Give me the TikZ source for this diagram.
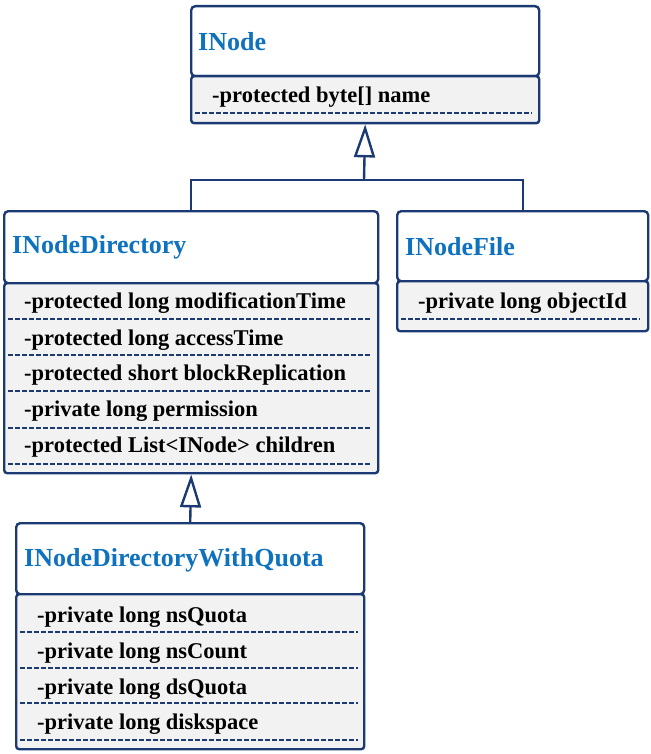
\documentclass[tikz,border=0pt]{standalone}
\usepackage{fontspec}
\setmainfont{Liberation Serif}
\usetikzlibrary{arrows.meta}
\definecolor{navy}{HTML}{1B3A73}
\definecolor{ttl}{HTML}{0E72BE}
\definecolor{attrbg}{HTML}{F2F2F2}
\tikzset{
 hdr/.style={draw=navy, line width=2.4pt, fill=white, rounded corners=4pt, anchor=north west, inner sep=0pt},
 sec/.style={draw=navy, line width=2.4pt, fill=attrbg, rounded corners=3pt, anchor=north west, inner sep=0pt},
 ttlt/.style={anchor=west, text=ttl, font=\fontsize{26}{30}\selectfont\bfseries, inner sep=0pt},
 att/.style={anchor=west, text=black, font=\fontsize{22.5}{26}\selectfont\bfseries, inner sep=0pt},
 sep/.style={draw=navy, line width=2pt, dash pattern=on 4.5pt off 2.5pt},
 conn/.style={draw=navy, line width=2.4pt},
 gen/.style={conn, -{Triangle[open, length=33pt, width=21pt, line width=2.4pt]}}
}
\begin{document}
\begin{tikzpicture}[x=1pt, y=-1pt]
\useasboundingbox (0,0) rectangle (650,754);
% INode
\node[hdr, minimum width=348pt, minimum height=70pt] (inodeH) at (190,5) {};
\node[sec, minimum width=348pt, minimum height=47pt] (inodeA) at (190,75) {};
\node[ttlt] (tInode) at (198,42) {INode};
\node[att] (aInode1) at (212,97) {-protected byte[] name};
\draw[sep] (195,113) -- (532,113);
% INodeDirectory
\node[hdr, minimum width=374pt, minimum height=72pt] (dirH) at (3,210) {};
\node[sec, minimum width=374pt, minimum height=190pt] (dirA) at (3,282) {};
\node[ttlt] (tDir) at (12,247) {INodeDirectory};
\node[att] (aDir1) at (24,303) {-protected long modificationTime};
\node[att] (aDir2) at (24,340) {-protected long accessTime};
\node[att] (aDir3) at (24,375) {-protected short blockReplication};
\node[att] (aDir4) at (24,411) {-private long permission};
\node[att] (aDir5) at (24,447) {-protected List<INode> children};
\foreach \yy in {319,355,391,428,464} \draw[sep] (8,\yy) -- (372,\yy);
% INodeFile
\node[hdr, minimum width=251pt, minimum height=70pt] (fileH) at (396,210) {};
\node[sec, minimum width=251pt, minimum height=50pt] (fileA) at (396,280) {};
\node[ttlt] (tFile) at (405,247) {INodeFile};
\node[att] (aFile1) at (418,303) {-private long objectId};
\draw[sep] (401,319) -- (640,319);
% INodeDirectoryWithQuota
\node[hdr, minimum width=348pt, minimum height=71pt] (iwqH) at (15,522) {};
\node[sec, minimum width=348pt, minimum height=155pt] (iwqA) at (15,593) {};
\node[ttlt] (tIwq) at (24,560) {INodeDirectoryWithQuota};
\node[att] (aIwq1) at (37,617) {-private long nsQuota};
\node[att] (aIwq2) at (37,653) {-private long nsCount};
\node[att] (aIwq3) at (37,689) {-private long dsQuota};
\node[att] (aIwq4) at (37,724) {-private long diskspace};
\foreach \yy in {632,668,703,740} \draw[sep] (20,\yy) -- (358,\yy);
% connectors
\coordinate (j1) at (364,180);
\draw[conn] (dirH.north) |- (j1) -| (fileH.north);
\draw[gen] (j1) -- (inodeA.south);
\draw[gen] (iwqH.north) -- (dirA.south);
\end{tikzpicture}
\end{document}
